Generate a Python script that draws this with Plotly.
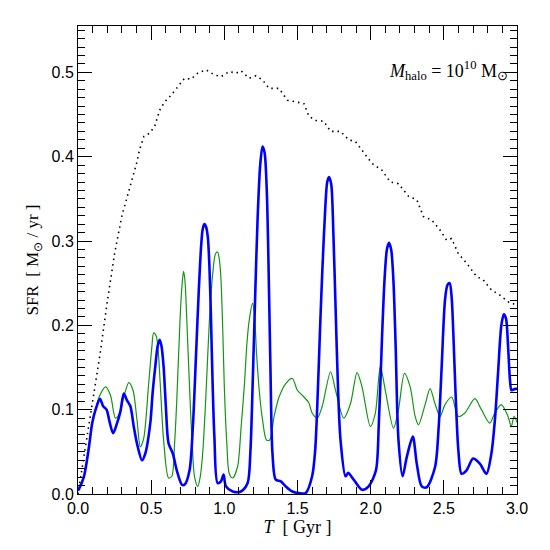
import plotly.graph_objects as go

# Total halo SFR (black dotted)
t_black = [0.0, 0.05, 0.10, 0.15, 0.20, 0.25, 0.30, 0.33, 0.365, 0.40, 0.42, 0.45, 0.49, 0.524,
           0.558, 0.592, 0.637, 0.683, 0.728, 0.773, 0.818, 0.875, 0.932, 0.978, 1.034, 1.08,
           1.113, 1.17, 1.216, 1.261, 1.306, 1.374, 1.431, 1.488, 1.544, 1.578, 1.624, 1.68,
           1.726, 1.794, 1.85, 1.896, 1.941, 2.009, 2.077, 2.134, 2.19, 2.259, 2.315, 2.361,
           2.417, 2.474, 2.519, 2.553, 2.599, 2.655, 2.723, 2.769, 2.825, 2.882, 2.939, 2.973, 3.0]
sfr_black = [0.0, 0.056, 0.112, 0.165, 0.228, 0.285, 0.330, 0.349, 0.369, 0.392, 0.408, 0.424, 0.428, 0.436,
             0.455, 0.465, 0.473, 0.483, 0.493, 0.492, 0.499, 0.503, 0.497, 0.495, 0.501, 0.499,
             0.502, 0.493, 0.496, 0.491, 0.481, 0.481, 0.467, 0.465, 0.463, 0.448, 0.443, 0.442,
             0.430, 0.430, 0.420, 0.418, 0.408, 0.392, 0.384, 0.370, 0.368, 0.353, 0.349, 0.329,
             0.325, 0.313, 0.301, 0.303, 0.285, 0.274, 0.258, 0.254, 0.242, 0.236, 0.228, 0.226, 0.222]

# Green series
t_green = [0.0, 0.041, 0.075, 0.097, 0.12, 0.144, 0.189, 0.222, 0.256, 0.279, 0.313, 0.347, 0.376,
           0.403, 0.426, 0.449, 0.483, 0.505, 0.517, 0.535, 0.55, 0.562, 0.585, 0.619, 0.641, 0.66, 0.675,
           0.698, 0.712, 0.721, 0.73, 0.745, 0.762, 0.78, 0.796, 0.818, 0.835, 0.852, 0.875, 0.898,
           0.92, 0.94, 0.954, 0.966, 0.977, 0.99, 1.0, 1.017, 1.034,
           1.057, 1.09, 1.115, 1.136, 1.155, 1.17, 1.193, 1.205, 1.22, 1.24, 1.261, 1.288, 1.31, 1.34,
           1.374, 1.42, 1.465,
           1.499, 1.533, 1.578, 1.60, 1.635, 1.669, 1.726, 1.76, 1.816, 1.862, 1.907, 1.941,
           1.998, 2.032, 2.066, 2.10, 2.156, 2.19, 2.231, 2.27, 2.304, 2.327, 2.372, 2.406,
           2.44, 2.474, 2.508, 2.553, 2.599, 2.644, 2.712, 2.757, 2.814, 2.848, 2.893, 2.939,
           2.961, 2.98, 3.0]
sfr_green = [0.006, 0.021, 0.056, 0.084, 0.10, 0.115, 0.127, 0.117, 0.090, 0.094, 0.115, 0.132, 0.123,
             0.088, 0.056, 0.066, 0.131, 0.175, 0.191, 0.187, 0.165, 0.131, 0.064, 0.019, 0.021, 0.06, 0.111,
             0.21, 0.25, 0.264, 0.255, 0.2, 0.127, 0.06, 0.021, 0.009, 0.02, 0.048, 0.12, 0.206,
             0.26, 0.285, 0.287, 0.278, 0.254, 0.19, 0.127, 0.06, 0.024,
             0.019, 0.032, 0.08, 0.127, 0.18, 0.206, 0.226, 0.215, 0.167, 0.12, 0.088, 0.064, 0.064, 0.092,
             0.115, 0.131, 0.137,
             0.123, 0.117, 0.108, 0.096, 0.090, 0.104, 0.145, 0.123, 0.090, 0.107, 0.144, 0.127,
             0.080, 0.096, 0.151, 0.123, 0.078, 0.10, 0.143, 0.127, 0.092, 0.082, 0.106, 0.125,
             0.107, 0.092, 0.106, 0.115, 0.092, 0.096, 0.113, 0.10, 0.084, 0.096, 0.106, 0.092,
             0.080, 0.092, 0.085]

# Blue series
t_blue = [0.0, 0.007, 0.041, 0.075, 0.097, 0.12, 0.150, 0.172, 0.195, 0.218, 0.24, 0.267, 0.29,
          0.313, 0.335, 0.358, 0.381, 0.403, 0.437, 0.46, 0.494, 0.51, 0.528, 0.545, 0.558, 0.57,
          0.585, 0.60, 0.619, 0.648, 0.675, 0.71, 0.728, 0.762, 0.785, 0.807, 0.825, 0.841, 0.852,
          0.864, 0.875, 0.887, 0.898, 0.909, 0.92, 0.932, 0.954,
          0.977, 0.995, 1.011, 1.057, 1.113, 1.159, 1.178, 1.193, 1.21, 1.227, 1.245, 1.261, 1.275,
          1.29, 1.30, 1.315, 1.329,
          1.351, 1.386, 1.42, 1.465, 1.51, 1.556, 1.6, 1.62, 1.635, 1.655, 1.669, 1.69, 1.703, 1.715,
          1.73, 1.745, 1.76, 1.778, 1.794,
          1.828, 1.846, 1.884, 1.941, 1.986, 2.036, 2.055, 2.077, 2.095, 2.111, 2.125, 2.14, 2.155,
          2.17, 2.19, 2.218,
          2.247, 2.288, 2.315, 2.349, 2.383, 2.44, 2.465, 2.485, 2.508, 2.525, 2.54, 2.553, 2.565,
          2.58, 2.60, 2.621,
          2.655, 2.70, 2.746, 2.791, 2.825, 2.85, 2.871, 2.893, 2.91, 2.925, 2.939, 2.952, 2.962,
          2.975, 3.0]
sfr_blue = [0.004, 0.006, 0.021, 0.056, 0.084, 0.10, 0.113, 0.104, 0.10, 0.084, 0.072, 0.084, 0.098,
            0.119, 0.111, 0.104, 0.080, 0.060, 0.040, 0.048, 0.084, 0.12, 0.151, 0.176, 0.183, 0.176,
            0.151, 0.105, 0.060, 0.048, 0.028, 0.011, 0.011, 0.028, 0.08, 0.167, 0.24, 0.293, 0.314,
            0.320, 0.317, 0.305, 0.27, 0.206, 0.13, 0.068, 0.013,
            0.015, 0.023, 0.009, 0.003, 0.003, 0.013, 0.05, 0.127, 0.23, 0.325, 0.39, 0.412, 0.405,
            0.36, 0.29, 0.15, 0.048,
            0.017, 0.015, 0.009, 0.003, 0.001, 0.001, 0.021, 0.05, 0.104, 0.2, 0.262, 0.34, 0.37, 0.376,
            0.368, 0.31, 0.222, 0.12, 0.064,
            0.021, 0.025, 0.017, 0.005, 0.009, 0.028, 0.08, 0.183, 0.255, 0.29, 0.298, 0.29, 0.255,
            0.18, 0.064, 0.021,
            0.044, 0.068, 0.036, 0.009, 0.008, 0.032, 0.08, 0.15, 0.23, 0.248, 0.25, 0.234, 0.19,
            0.12, 0.05, 0.024,
            0.028, 0.042, 0.036, 0.024, 0.048, 0.09, 0.145, 0.2, 0.213, 0.208, 0.175, 0.135, 0.123,
            0.124, 0.125]

fig = go.Figure()
fig.add_trace(go.Scatter(x=t_black, y=sfr_black, mode="lines",
                         line=dict(color="black", width=1.6, dash="1.5px,4px"),
                         showlegend=False, hoverinfo="skip"))
fig.add_trace(go.Scatter(x=t_green, y=sfr_green, mode="lines",
                         line=dict(color="rgb(20,150,20)", width=1.2, shape="spline", smoothing=0.8),
                         showlegend=False))
fig.add_trace(go.Scatter(x=t_blue, y=sfr_blue, mode="lines",
                         line=dict(color="rgb(0,0,255)", width=2.6, shape="spline", smoothing=0.8),
                         showlegend=False))

axis_common = dict(showline=True, linecolor="black", linewidth=1, mirror="allticks",
                   ticks="inside", ticklen=14, tickwidth=1, tickcolor="black",
                   showgrid=False, zeroline=False,
                   tickfont=dict(family="Liberation Sans, Arial, sans-serif", size=16, color="black"))

fig.update_xaxes(range=[0, 3.0], dtick=0.5, tick0=0, tickformat=".1f",
                 minor=dict(ticks="inside", ticklen=7, dtick=0.1, tickcolor="black", showgrid=False),
                 title=dict(text="<i>T</i>  [ Gyr ]",
                            font=dict(family="Liberation Serif, Times New Roman, serif", size=18, color="black"),
                            standoff=4),
                 **axis_common)
fig.update_yaxes(range=[0, 0.555], dtick=0.1, tick0=0, tickformat=".1f",
                 minor=dict(ticks="inside", ticklen=7, dtick=0.01, tickcolor="black", showgrid=False),
                 title=dict(text="SFR  [ M<sub>⊙</sub> / yr ]",
                            font=dict(family="Liberation Serif, Times New Roman, serif", size=17, color="black"),
                            standoff=8),
                 **axis_common)

fig.add_annotation(xref="paper", yref="paper", x=0.985, y=0.905, xanchor="right", yanchor="middle",
                   text="<i>M</i><sub>halo</sub> = 10<sup>10</sup> M<sub>⊙</sub>",
                   showarrow=False,
                   font=dict(family="Liberation Serif, Times New Roman, serif", size=18, color="black"))

fig.update_layout(width=550, height=550, plot_bgcolor="white", paper_bgcolor="white",
                  margin=dict(l=70, r=41, t=18, b=64))

fig.write_html("out.html")
